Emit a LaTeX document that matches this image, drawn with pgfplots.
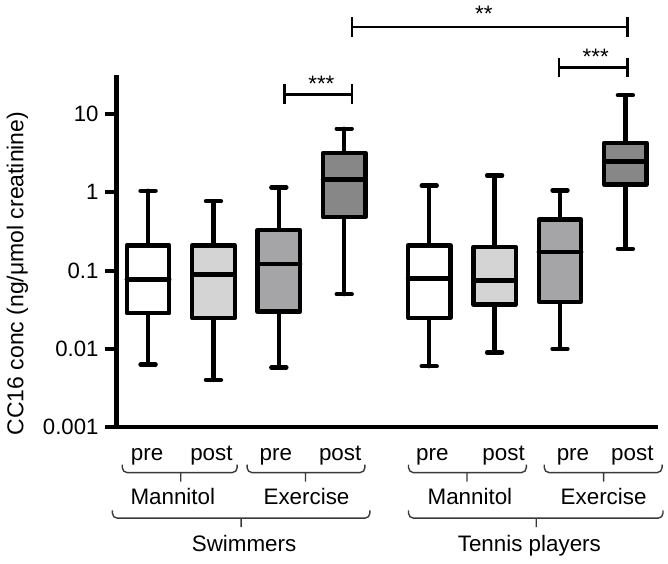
\documentclass[border=0pt]{standalone}
\usepackage{fontspec}
\setmainfont{Liberation Sans}
\usepackage{pgfplots}
\pgfplotsset{compat=1.18}
\usepgfplotslibrary{statistics}
\definecolor{lgray}{HTML}{D4D4D4}
\definecolor{mgray}{HTML}{A5A5A8}
\definecolor{dgray}{HTML}{878787}
\definecolor{brgray}{HTML}{3A3A3A}
\newcommand{\lf}{\fontsize{11.3}{13}\selectfont}
\newcommand{\tf}{\fontsize{11.2}{13}\selectfont}
\begin{document}
\begin{tikzpicture}
\begin{scope}[x=0.5pt,y=-0.5pt,shift={(0pt,280pt)}]
\useasboundingbox (0,0) rectangle (668,560);
\end{scope}
\begin{axis}[
  at={(55.5pt,66.5pt)}, anchor=south west,
  scale only axis, width=273.5pt, height=177.5pt,
  ymode=log, ymin=0.001, ymax=31.2,
  xmin=-0.485, xmax=7.8,
  axis x line*=bottom, axis y line*=left,
  axis line style={line width=2.2pt, -},
  xtick=\empty,
  ytick={0.001,0.01,0.1,1,10},
  yticklabels={{\tf 0.001},{\tf 0.01},{\tf 0.1},{\tf 1},{\tf 10}},
  yminorticks=false,
  tick align=outside,
  major tick length=5.5pt,
  every tick/.style={black, line width=2pt},
  yticklabel style={font=\tf},
  /pgf/number format/assume math mode=true,
  clip=false,
  every axis plot/.append style={draw=black, line width=2.2pt, line cap=round, line join=round, mark=none},
]
% Swimmers
\addplot[fill=white, boxplot prepared={draw direction=y, box extend=0.65, whisker extend=0.23, draw position=0, lower whisker=0.0063, lower quartile=0.0286, median=0.077, upper quartile=0.21, upper whisker=1.05}] coordinates {};
\addplot[fill=lgray, boxplot prepared={draw direction=y, box extend=0.65, whisker extend=0.23, draw position=1, lower whisker=0.0040, lower quartile=0.0246, median=0.089, upper quartile=0.21, upper whisker=0.77}] coordinates {};
\addplot[fill=mgray, boxplot prepared={draw direction=y, box extend=0.65, whisker extend=0.23, draw position=2, lower whisker=0.0058, lower quartile=0.030, median=0.122, upper quartile=0.33, upper whisker=1.16}] coordinates {};
\addplot[fill=dgray, boxplot prepared={draw direction=y, box extend=0.65, whisker extend=0.23, draw position=3, lower whisker=0.050, lower quartile=0.48, median=1.46, upper quartile=3.2, upper whisker=6.5}] coordinates {};
% Tennis players
\addplot[fill=white, boxplot prepared={draw direction=y, box extend=0.65, whisker extend=0.23, draw position=4.3, lower whisker=0.0060, lower quartile=0.025, median=0.079, upper quartile=0.21, upper whisker=1.22}] coordinates {};
\addplot[fill=lgray, boxplot prepared={draw direction=y, box extend=0.65, whisker extend=0.23, draw position=5.3, lower whisker=0.0090, lower quartile=0.037, median=0.075, upper quartile=0.20, upper whisker=1.64}] coordinates {};
\addplot[fill=mgray, boxplot prepared={draw direction=y, box extend=0.65, whisker extend=0.23, draw position=6.3, lower whisker=0.010, lower quartile=0.040, median=0.174, upper quartile=0.45, upper whisker=1.06}] coordinates {};
\addplot[fill=dgray, boxplot prepared={draw direction=y, box extend=0.65, whisker extend=0.23, draw position=7.3, lower whisker=0.19, lower quartile=1.26, median=2.47, upper quartile=4.3, upper whisker=17.4}] coordinates {};
\end{axis}
\begin{scope}[x=0.5pt,y=-0.5pt,shift={(0pt,280pt)}]
% y label
\node[rotate=90, font=\fontsize{11.6}{14}\selectfont] at (11,272) {CC16 conc (ng/μmol creatinine)};
% significance brackets
\draw[line width=1.4pt] (281,81) -- (281,101) (281,91) -- (349,91) (349,81) -- (349,101);
\node[anchor=base, font=\lf] at (318,88) {***};
\draw[line width=1.4pt] (349,13) -- (349,33) (349,23) -- (627,23) (627,13) -- (627,33);
\node[anchor=base, font=\lf] at (482,18) {**};
\draw[line width=1.4pt] (558,54) -- (558,74) (558,64) -- (627,64) (627,54) -- (627,74);
\node[anchor=base, font=\lf] at (595,61) {***};
% category labels
\foreach \x/\t in {142/pre, 207/post, 272/pre, 337/post, 430/pre, 502/post, 572/pre, 632/post}
  \node[anchor=base, font=\lf] at (\x,461) {\t};
\foreach \a/\b/\m in {117/233/176, 243/362/302, 406/525/465, 543/662/603}
  \draw[brgray, line width=0.7pt, rounded corners=2.5pt] (\a,465) -- (\a,473) -- (\b,473) -- (\b,465) (\m,473) -- (\m,482);
\foreach \x/\t in {168/Mannitol, 303/Exercise, 468/Mannitol, 603/Exercise}
  \node[anchor=base, font=\lf] at (\x,505) {\t};
\foreach \a/\b/\m in {107/367/237, 406/663/535}
  \draw[brgray, line width=0.7pt, rounded corners=2.5pt] (\a,511) -- (\a,519) -- (\b,519) -- (\b,511) (\m,519) -- (\m,528);
\node[anchor=base, font=\lf] at (240,553) {Swimmers};
\node[anchor=base, font=\lf] at (528,553) {Tennis players};
\end{scope}
\end{tikzpicture}
\end{document}
